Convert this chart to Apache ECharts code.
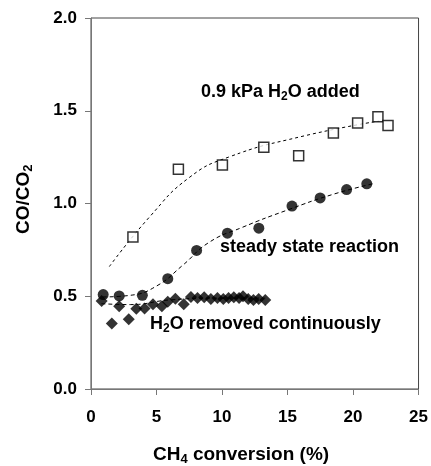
<!DOCTYPE html>
<html>
<head>
<meta charset="utf-8">
<script src="https://cdn.jsdelivr.net/npm/echarts@6/dist/echarts.min.js"></script>
<style>
html,body{margin:0;padding:0;background:#fff;}
#chart{width:431px;height:466px;}
</style>
</head>
<body>
<div id="chart"></div>
<script>
// Tick labels
const xTicks = [0, 5, 10, 15, 20, 25];
const yTicks = [0.0, 0.5, 1.0, 1.5, 2.0];

// 0.9 kPa H2O added (open squares)
const waterAddedX = [3.2, 6.67, 10.03, 13.19, 15.85, 18.5, 20.35, 21.9, 22.67];
const waterAddedY = [0.82, 1.184, 1.208, 1.303, 1.258, 1.38, 1.434, 1.468, 1.421];

// steady state reaction (filled circles)
const steadyX = [0.93, 2.15, 3.92, 5.86, 8.06, 10.41, 12.81, 15.34, 17.49, 19.51, 21.05];
const steadyY = [0.509, 0.502, 0.505, 0.595, 0.747, 0.84, 0.867, 0.986, 1.03, 1.075, 1.106];

// H2O removed continuously (filled diamonds)
const removedX = [0.81, 1.59, 2.15, 2.88, 3.46, 4.09, 4.73, 5.41, 5.86, 6.44, 7.08, 7.63, 8.13, 8.64, 9.15, 9.65, 10.1, 10.5, 10.9, 11.3, 11.6, 12.0, 12.4, 12.8, 13.3];
const removedY = [0.475, 0.353, 0.446, 0.376, 0.432, 0.434, 0.457, 0.446, 0.471, 0.487, 0.457, 0.496, 0.49, 0.495, 0.485, 0.49, 0.485, 0.49, 0.495, 0.49, 0.5, 0.485, 0.48, 0.485, 0.48];

// Dashed trend curves
const fitAddedX = [1.4, 4.5, 7.5, 10.5, 16.0, 22.0];
const fitAddedY = [0.66, 0.93, 1.14, 1.25, 1.36, 1.445];
const fitSteadyX = [0.9, 3.0, 5.0, 7.0, 9.0, 11.5, 15.0, 18.5, 21.5];
const fitSteadyY = [0.496, 0.505, 0.555, 0.667, 0.79, 0.87, 0.965, 1.05, 1.106];
const fitRemovedX = [0.8, 3.0, 6.0, 10.0, 13.3];
const fitRemovedY = [0.46, 0.455, 0.48, 0.49, 0.49];

const zip = (xs, ys) => xs.map((x, i) => [x, ys[i]]);
const FONT = '"Liberation Sans", Arial, sans-serif';

const chart = echarts.init(document.getElementById('chart'), null, {renderer: 'canvas'});

const mk = (size, subSize) => ({
  b: {fontFamily: FONT, fontWeight: 'bold', fontSize: size, color: '#000', lineHeight: 22},
  s: {fontFamily: FONT, fontWeight: 'bold', fontSize: subSize, color: '#000', verticalAlign: 'bottom', lineHeight: 7}
});

chart.setOption({
  animation: false,
  backgroundColor: '#fff',
  grid: {left: 91, top: 18, right: 10, bottom: 77, show: true, borderColor: '#444', borderWidth: 1},
  xAxis: {
    type: 'value', min: 0, max: 25, interval: 5,
    axisLine: {show: true, onZero: false, lineStyle: {color: '#777', width: 1}},
    axisTick: {show: true, length: 6, inside: false, lineStyle: {color: '#777'}},
    splitLine: {show: false},
    axisLabel: {margin: 20, fontFamily: FONT, fontWeight: 'bold', fontSize: 17, color: '#000',
      formatter: v => xTicks.includes(v) ? String(v) : ''}
  },
  yAxis: {
    type: 'value', min: 0, max: 2, interval: 0.5,
    axisLine: {show: true, onZero: false, lineStyle: {color: '#777', width: 1}},
    axisTick: {show: true, length: 6, inside: false, lineStyle: {color: '#777'}},
    splitLine: {show: false},
    axisLabel: {margin: 14, fontFamily: FONT, fontWeight: 'bold', fontSize: 17, color: '#000',
      formatter: v => { const t = yTicks.find(y => Math.abs(y - v) < 1e-9); return t === undefined ? '' : t.toFixed(1); }}
  },
  graphic: [
    {type: 'text', left: 201, top: 83, style: {rich: mk(18, 12), text: '{b|0.9 kPa H}{s|2}{b|O added}'}},
    {type: 'text', left: 220, top: 238, style: {text: 'steady state reaction', font: 'bold 18px ' + FONT, fill: '#000'}},
    {type: 'text', left: 150, top: 315, style: {rich: mk(18, 12), text: '{b|H}{s|2}{b|O removed continuously}'}},
    {type: 'text', left: 153, top: 445, style: {rich: mk(19, 13), text: '{b|CH}{s|4}{b| conversion (%)}'}},
    {type: 'text', x: 13, y: 234, rotation: Math.PI / 2, originX: 0, originY: 0, style: {rich: mk(19, 13), text: '{b|CO/CO}{s|2}'}}
  ],
  series: [
    {type: 'line', data: zip(fitAddedX, fitAddedY), smooth: 0.5, symbol: 'none', lineStyle: {color: '#000', width: 1, type: [3, 3]}, z: 1},
    {type: 'line', data: zip(fitSteadyX, fitSteadyY), smooth: 0.5, symbol: 'none', lineStyle: {color: '#000', width: 1, type: [4, 3]}, z: 1},
    {type: 'line', data: zip(fitRemovedX, fitRemovedY), smooth: 0.5, symbol: 'none', lineStyle: {color: '#000', width: 1, type: [4, 3]}, z: 1},
    {type: 'scatter', data: zip(waterAddedX, waterAddedY), symbol: 'rect', symbolSize: 10, itemStyle: {color: '#fff', borderColor: '#000', borderWidth: 1.5}, z: 3},
    {type: 'scatter', data: zip(steadyX, steadyY), symbol: 'circle', symbolSize: 11, itemStyle: {color: '#000'}, z: 3},
    {type: 'scatter', data: zip(removedX, removedY), symbol: 'diamond', symbolSize: 12, itemStyle: {color: '#000'}, z: 3}
  ]
});
</script>
</body>
</html>
